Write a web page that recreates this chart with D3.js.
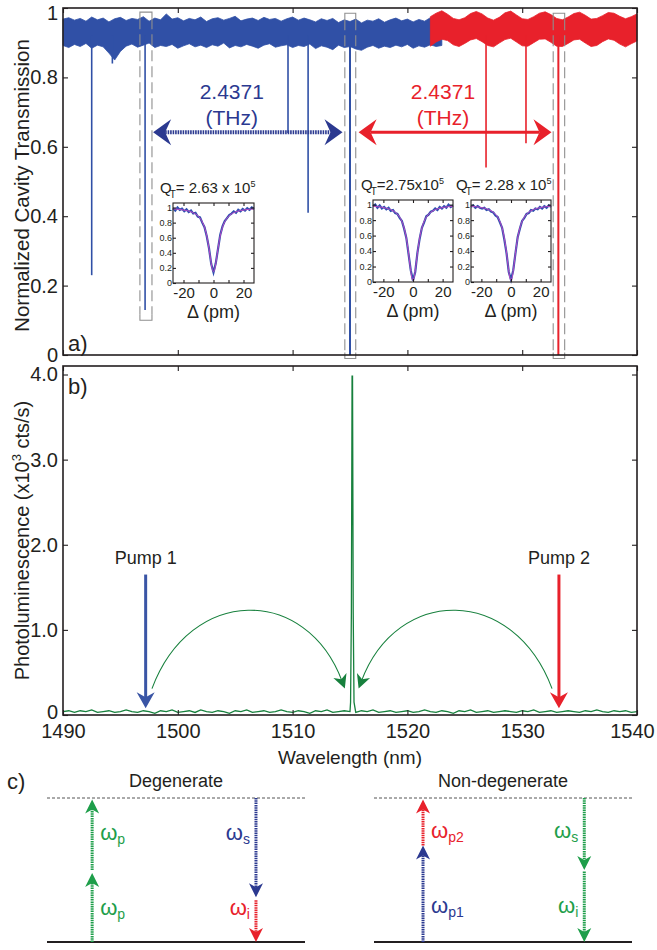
<!DOCTYPE html>
<html lang="en">
<head>
<meta charset="UTF-8">
<title>Cavity transmission and photoluminescence</title>
<script src="https://d3js.org/d3.v7.min.js"></script>
<style>
  body { margin: 0; background: #fff; }
  svg { font-family: "Liberation Sans", Arial, sans-serif; }
</style>
</head>
<body>
<div id="chart"></div>
<script>
// ---------- data ----------
const xTicks = [1490, 1500, 1510, 1520, 1530, 1540];
const transTicks = [0, 0.2, 0.4, 0.6, 0.8, 1];
const transTickLabels = ["0", "0.2", "0.4", "0.6", "0.8", "1"];
const plTicks = [0, 1, 2, 3, 4];
const plTickLabels = ["0", "1.0", "2.0", "3.0", "4.0"];

// transmission noise envelope, 0.5 nm steps
const blueStart = 1490;
const blueUpper = [.968,.972,.965,.970,.962,.974,.966,.971,.960,.969,
  .973,.964,.970,.967,.975,.962,.971,.966,.983,.968,
  .972,.963,.970,.966,.974,.961,.969,.972,.965,.970,
  .976,.963,.968,.971,.964,.973,.967,.970,.962,.969,
  .974,.965,.971,.966,.960,.969,.964,.970,.958,.966,
  .961,.968,.957,.965,.962,.969,.959,.966,.971,.963,
  .968,.960,.967,.962,.972,.966,.969];
const blueLower = [.892,.886,.895,.889,.898,.884,.893,.888,.870,.850,
  .875,.890,.896,.887,.893,.899,.886,.892,.889,.895,
  .884,.891,.897,.888,.893,.886,.894,.890,.899,.885,
  .892,.888,.895,.890,.884,.893,.897,.887,.891,.894,
  .886,.892,.889,.896,.883,.891,.887,.880,.893,.886,
  .889,.882,.878,.887,.892,.884,.890,.886,.893,.888,
  .895,.884,.891,.887,.894,.889,.892];
const redStart = 1522;
const redUpper = [.975,.985,.992,.982,.970,.966,.972,.984,.990,.983,
  .971,.965,.973,.986,.991,.980,.969,.967,.975,.985,
  .989,.981,.970,.966,.974,.984,.988,.979,.968,.970,
  .978,.987,.985,.976,.969,.975,.983];
const redLower = [.890,.902,.910,.906,.894,.889,.898,.908,.912,.903,
  .892,.888,.899,.909,.913,.902,.891,.890,.900,.910,
  .911,.901,.890,.889,.898,.908,.910,.899,.889,.892,
  .903,.911,.907,.896,.888,.897,.905];

// resonance dips
const dipLambda = [1492.5, 1494.3, 1497.15, 1509.6, 1511.35, 1515.0, 1526.85, 1530.33, 1533.15];
const dipMin    = [0.23, 0.84, 0.13, 0.64, 0.41, 0.0, 0.54, 0.61, 0.0];
const dipSeries = ["b", "b", "b", "b", "b", "b", "r", "r", "r"];

// dashed boxes marking the three resonances
const boxLeft   = [1496.7, 1514.55, 1532.7];
const boxRight  = [1497.75, 1515.5, 1533.7];
const boxTop    = [0.988, 0.985, 0.985];
const boxBottom = [0.10, -0.01, -0.01];

// frequency spacing arrows
const spanFrom = [1497.85, 1515.75];
const spanTo   = [1514.35, 1532.55];
const spanLevel = 0.642;
const spanText = ["2.4371", "2.4371"];
const spanTextLambda = [1504.7, 1523.1];

// insets: normalized transmission vs detuning (pm)
const insetQ = ["2.63", "2.75", "2.28"];
const insetData = [
  [.99,.96,1.0,.97,.985,.95,.975,.94,.96,.92,.93,.88,.87,.80,.74,.62,.46,.25,.14,
   .26,.45,.64,.75,.82,.86,.90,.92,.95,.93,.97,.95,.98,.96,.99,.97,1.0,.98],
  [.98,1.0,.96,.99,.95,.97,.94,.96,.92,.93,.89,.88,.83,.79,.69,.57,.36,.15,.02,
   .13,.38,.56,.70,.77,.85,.87,.91,.92,.95,.93,.97,.95,.98,.96,1.0,.97,.99],
  [.97,.99,.96,.98,.96,.95,.96,.93,.94,.91,.90,.86,.84,.77,.70,.55,.37,.13,.03,
   .15,.37,.58,.69,.79,.83,.88,.89,.93,.92,.95,.94,.97,.95,.98,.96,.99,.97]
];
const fitDelta = [-27,-24,-21,-18,-15,-12,-10,-8,-6,-5,-4,-3,-2,-1,0,1,2,3,4,5,6,8,10,12,15,18,21,24,27];
const insetFit = [
  [.982,.977,.970,.960,.944,.915,.883,.830,.738,.668,.575,.456,.320,.200,.15,
   .200,.320,.456,.575,.668,.738,.830,.883,.915,.944,.960,.970,.977,.982],
  [.979,.974,.966,.954,.935,.902,.865,.804,.698,.618,.510,.373,.216,.078,.02,
   .078,.216,.373,.510,.618,.698,.804,.865,.902,.935,.954,.966,.974,.979],
  [.979,.974,.966,.954,.935,.902,.865,.804,.698,.618,.510,.373,.216,.078,.02,
   .078,.216,.373,.510,.618,.698,.804,.865,.902,.935,.954,.966,.974,.979]
];

// photoluminescence, 0.5 nm steps, plus the resolved peak
const plStart = 1490;
const plCounts = [.04,.05,.03,.05,.04,.06,.03,.04,.05,.03,
  .04,.06,.04,.03,.05,.04,.02,.05,.04,.06,
  .03,.04,.05,.03,.06,.04,.03,.05,.04,.02,
  .05,.04,.06,.03,.04,.05,.03,.04,.06,.04,
  .03,.05,.04,.02,.05,.04,.06,.03,.04,.05,
  .04,.03,.05,.04,.06,.03,.04,.05,.03,.04,
  .05,.03,.04,.06,.04,.03,.05,.04,.02,.05,
  .04,.06,.03,.04,.05,.03,.04,.05,.04,.03,
  .05,.04,.06,.03,.04,.05,.03,.04,.05,.04,
  .03,.05,.04,.06,.04,.03,.05,.04,.05,.03,.04];
const peakLambda = [1515.05, 1515.12, 1515.18, 1515.22, 1515.28, 1515.35];
const peakCounts = [0.15, 1.2, 3.98, 3.98, 1.2, 0.15];

const pumpLambda = [1497.2, 1533.2];
const pumpText = ["Pump 1", "Pump 2"];
const pumpTop = 1.65, pumpTip = 0.08;
const arcFrom = [1497.75, 1532.6];
const arcTo = [1514.55, 1515.75];
const arcBase = 0.31, arcPeak = 1.22;

// energy diagrams: from/to level (0 = ground, 1 = virtual), column, colour key
const diagTitle = ["Degenerate", "Non-degenerate"];
const segDiagram = [0, 0, 0, 0, 1, 1, 1, 1];
const segColumn  = [0, 0, 1, 1, 0, 0, 1, 1];
const segFrom    = [0, 0.5, 1, 0.29, 0, 0.67, 1, 0.49];
const segTo      = [0.48, 0.99, 0.31, 0, 0.67, 0.99, 0.5, 0];
const segColor   = ["g", "g", "n", "r", "n", "r", "g", "g"];
const labDiagram = [0, 0, 0, 0, 1, 1, 1, 1];
const labColumn  = [0, 0, 1, 1, 0, 0, 1, 1];
const labLevel   = [0.71, 0.19, 0.71, 0.19, 0.72, 0.2, 0.72, 0.2];
const labSub     = ["p", "p", "s", "i", "p2", "p1", "s", "i"];
const labColor   = ["g", "g", "n", "r", "r", "n", "g", "g"];

// ---------- drawing ----------
const C = {ink: "#231f20", blue: "#3050a6", navy: "#2b3990", red: "#e8212b",
  green: "#17803d", green2: "#1e9e4a", grey: "#8f8f8f", fit: "#b948c4", pump: "#3a55a5"};
const colorKey = {g: C.green2, n: C.navy, r: C.red};

const svg = d3.select("#chart").append("svg").attr("width", 657).attr("height", 950);

const x = d3.scaleLinear().domain([1490, 1540]).range([63, 637]);
const yT = d3.scaleLinear().domain([0, 1]).range([355, 8]);
const yP = d3.scaleLinear().domain([0, 4.1]).range([715, 366]);

function arrowHead(g, px, py, angle, color, len, half, notch) {
  g.append("path")
    .attr("d", `M0,0L${-len},${-half}L${-len + notch},0L${-len},${half}Z`)
    .attr("transform", `translate(${px},${py}) rotate(${angle * 180 / Math.PI})`)
    .attr("fill", color);
}

function styleAxis(g, size) {
  g.select(".domain").remove();
  g.attr("font-family", null).attr("font-size", size);
  g.selectAll("line").attr("stroke", C.ink).attr("stroke-width", 1.1);
  g.selectAll("text").attr("fill", C.ink);
}

// ----- panel a -----
const pa = svg.append("g");
const band = d3.area().x(d => x(d.l)).y0(d => yT(d.lo)).y1(d => yT(d.hi));
const blueBand = blueUpper.map((v, i) => ({l: blueStart + i * 0.5, hi: v, lo: blueLower[i]}));
const redBand = redUpper.map((v, i) => ({l: redStart + i * 0.5, hi: v, lo: redLower[i]}));

function drawDips(key, color) {
  dipLambda.forEach((l, i) => {
    if (dipSeries[i] !== key) return;
    pa.append("line")
      .attr("x1", x(l)).attr("x2", x(l))
      .attr("y1", yT(0.92)).attr("y2", yT(dipMin[i]))
      .attr("stroke", color).attr("stroke-width", dipMin[i] < 0.05 ? 2 : 1.6);
  });
}
pa.append("path").datum(blueBand).attr("d", band)
  .attr("fill", C.blue).attr("stroke", C.blue).attr("stroke-width", 0.8);
drawDips("b", C.blue);
pa.append("path").datum(redBand).attr("d", band)
  .attr("fill", C.red).attr("stroke", C.red).attr("stroke-width", 0.8);
drawDips("r", C.red);

// dashed resonance boxes
boxLeft.forEach((l, i) => {
  const x0 = x(l), x1 = x(boxRight[i]), y0 = yT(boxTop[i]), y1 = yT(boxBottom[i]);
  pa.append("path").attr("d", `M${x0},${y0 + 6}V${y0}H${x1}V${y0 + 6}M${x0},${y1 - 6}V${y1}H${x1}V${y1 - 6}`)
    .attr("fill", "none").attr("stroke", C.grey).attr("stroke-width", 1.1);
  [x0, x1].forEach(xx => pa.append("line")
    .attr("x1", xx).attr("x2", xx).attr("y1", y0 + 6).attr("y2", y1 - 6)
    .attr("stroke", C.grey).attr("stroke-width", 1.1).attr("stroke-dasharray", "11,5"));
});

// spacing arrows
spanFrom.forEach((l, i) => {
  const color = i === 0 ? C.navy : C.red;
  const xa = x(l), xb = x(spanTo[i]), yy = yT(spanLevel);
  pa.append("line").attr("x1", xa + 12).attr("x2", xb - 12).attr("y1", yy).attr("y2", yy)
    .attr("stroke", color).attr("stroke-width", i === 0 ? 4 : 3)
    .attr("stroke-dasharray", i === 0 ? "1.6,0.9" : null);
  arrowHead(pa, xa, yy, Math.PI, color, 18, 13, 6);
  arrowHead(pa, xb, yy, 0, color, 18, 13, 6);
  const t = pa.append("text").attr("text-anchor", "middle").attr("fill", color).attr("font-size", 21);
  t.append("tspan").attr("x", x(spanTextLambda[i])).attr("y", yT(0.737)).text(spanText[i]);
  t.append("tspan").attr("x", x(spanTextLambda[i])).attr("y", yT(0.663)).text("(THz)");
});

// insets
const insetBox = [{l: 173, t: 203, w: 81, h: 80, qx: 160, qy: 193, tight: false},
                  {l: 373, t: 200, w: 80, h: 82, qx: 361, qy: 190, tight: true},
                  {l: 471, t: 200, w: 80, h: 82, qx: 456, qy: 190, tight: false}];
const dataDelta = d3.range(-27, 27.01, 1.5);
insetBox.forEach((b, k) => {
  const g = svg.append("g").attr("transform", `translate(${b.l},${b.t})`);
  const ix = d3.scaleLinear().domain([-27, 27]).range([0, b.w]);
  const iy = d3.scaleLinear().domain([0, 1.06]).range([b.h, 0]);
  g.append("rect").attr("width", b.w).attr("height", b.h).attr("fill", "#fff");
  g.append("path").datum(insetData[k])
    .attr("d", d3.line().x((d, i) => ix(dataDelta[i])).y(d => iy(d)))
    .attr("fill", "none").attr("stroke", "#3050b0").attr("stroke-width", 2.2);
  g.append("path").datum(insetFit[k])
    .attr("d", d3.line().curve(d3.curveMonotoneX).x((d, i) => ix(fitDelta[i])).y(d => iy(d)))
    .attr("fill", "none").attr("stroke", C.fit).attr("stroke-width", 1);
  const gy = g.append("g").call(d3.axisLeft(iy).tickValues([0, 0.2, 0.4, 0.6, 0.8, 1])
    .tickFormat(d => d === 0 ? "0" : d === 1 ? "1" : d.toFixed(1)).tickSizeInner(-3).tickSizeOuter(0).tickPadding(1));
  styleAxis(gy, 9);
  const gx = g.append("g").attr("transform", `translate(0,${b.h})`)
    .call(d3.axisBottom(ix).tickValues([-20, -10, 0, 10, 20])
      .tickFormat(d => Math.abs(d) === 10 ? "" : d).tickSizeInner(-3).tickSizeOuter(0).tickPadding(4));
  styleAxis(gx, 15);
  g.append("g").call(d3.axisTop(ix).tickValues([-20, -10, 0, 10, 20]).tickFormat("").tickSizeInner(-3).tickSizeOuter(0))
    .call(a => styleAxis(a, 9));
  g.append("g").attr("transform", `translate(${b.w},0)`)
    .call(d3.axisRight(iy).tickValues([0.2, 0.4, 0.6, 0.8, 1]).tickFormat("").tickSizeInner(-3).tickSizeOuter(0))
    .call(a => styleAxis(a, 9));
  g.append("rect").attr("width", b.w).attr("height", b.h)
    .attr("fill", "none").attr("stroke", C.ink).attr("stroke-width", 1.1);
  g.append("text").attr("x", b.w / 2).attr("y", b.h + 35).attr("text-anchor", "middle")
    .attr("font-size", 18).attr("fill", C.ink).text("\u0394 (pm)");
  const q = svg.append("text").attr("x", b.qx).attr("y", b.qy).attr("font-size", 15).attr("fill", C.ink);
  q.append("tspan").text("Q");
  q.append("tspan").attr("font-size", 10).attr("dx", -2).attr("dy", 5).text("T");
  q.append("tspan").attr("dy", -5).text(b.tight ? `=${insetQ[k]}x10` : `= ${insetQ[k]} x 10`);
  q.append("tspan").attr("font-size", 9).attr("dy", -6).text("5");
});

// panel a axes + frame
const aL = pa.append("g").attr("transform", "translate(63,0)")
  .call(d3.axisLeft(yT).tickValues(transTicks).tickFormat((d, i) => transTickLabels[i])
    .tickSizeInner(-5).tickSizeOuter(0).tickPadding(5));
styleAxis(aL, 20);
aL.selectAll("text").filter(d => d === 1).attr("dy", "0.55em");
pa.append("g").attr("transform", "translate(637,0)")
  .call(d3.axisRight(yT).tickValues(transTicks).tickFormat("").tickSizeInner(-5).tickSizeOuter(0))
  .call(a => styleAxis(a, 10));
pa.append("g").attr("transform", "translate(0,8)")
  .call(d3.axisTop(x).tickValues(xTicks).tickFormat("").tickSizeInner(-5).tickSizeOuter(0))
  .call(a => styleAxis(a, 10));
pa.append("g").attr("transform", "translate(0,355)")
  .call(d3.axisBottom(x).tickValues(xTicks).tickFormat("").tickSizeInner(-5).tickSizeOuter(0))
  .call(a => styleAxis(a, 10));
pa.append("rect").attr("x", 63).attr("y", 8).attr("width", 574).attr("height", 347)
  .attr("fill", "none").attr("stroke", C.ink).attr("stroke-width", 1.6);
pa.append("text").attr("transform", `translate(22,${(16 + 355) / 2}) rotate(-90)`)
  .attr("text-anchor", "middle").attr("dy", "0.35em").attr("font-size", 20.5).attr("fill", C.ink)
  .text("Normalized Cavity Transmission");
pa.append("text").attr("x", 68).attr("y", 351).attr("font-size", 22).attr("fill", C.ink).text("a)");

// ----- panel b -----
const pb = svg.append("g");
const plSeries = plCounts.map((v, i) => ({l: plStart + i * 0.5, v}))
  .concat(peakLambda.map((l, i) => ({l, v: peakCounts[i]})))
  .sort((a, b) => a.l - b.l);
pb.append("path").datum(plSeries)
  .attr("d", d3.line().x(d => x(d.l)).y(d => yP(d.v)))
  .attr("fill", "none").attr("stroke", C.green).attr("stroke-width", 1.3);

pumpLambda.forEach((l, i) => {
  const color = i === 0 ? C.pump : C.red;
  pb.append("line").attr("x1", x(l)).attr("x2", x(l))
    .attr("y1", yP(pumpTop)).attr("y2", yP(pumpTip) - 10)
    .attr("stroke", color).attr("stroke-width", 3);
  arrowHead(pb, x(l), yP(pumpTip), Math.PI / 2, color, 16, 9, 5);
  pb.append("text").attr("x", x(l)).attr("y", yP(pumpTop) - 11).attr("text-anchor", "middle")
    .attr("font-size", 18).attr("fill", C.ink).text(pumpText[i]);
});

arcFrom.forEach((l, i) => {
  const span = arcTo[i] - l;
  const yc = (arcPeak - 0.25 * arcBase) / 0.75;
  const p0 = [x(l), yP(arcBase)], p1 = [x(l + 0.2 * span), yP(yc)],
        p2 = [x(arcTo[i] - 0.2 * span), yP(yc)], p3 = [x(arcTo[i]), yP(arcBase)];
  const ang = Math.atan2(p3[1] - p2[1], p3[0] - p2[0]);
  const e = [p3[0] - 8 * Math.cos(ang), p3[1] - 8 * Math.sin(ang)];
  pb.append("path").attr("d", `M${p0}C${p1} ${p2} ${e}`)
    .attr("fill", "none").attr("stroke", C.green).attr("stroke-width", 1.1);
  arrowHead(pb, p3[0], p3[1], ang, C.green, 14, 7, 4);
});

const bL = pb.append("g").attr("transform", "translate(63,0)")
  .call(d3.axisLeft(yP).tickValues(plTicks).tickFormat((d, i) => plTickLabels[i])
    .tickSizeInner(-5).tickSizeOuter(0).tickPadding(5));
styleAxis(bL, 20);
bL.selectAll("text").filter(d => d === 0).attr("dy", "0.15em");
pb.append("g").attr("transform", "translate(637,0)")
  .call(d3.axisRight(yP).tickValues(plTicks).tickFormat("").tickSizeInner(-5).tickSizeOuter(0))
  .call(a => styleAxis(a, 10));
pb.append("g").attr("transform", "translate(0,366)")
  .call(d3.axisTop(x).tickValues(xTicks).tickFormat("").tickSizeInner(-5).tickSizeOuter(0))
  .call(a => styleAxis(a, 10));
const bB = pb.append("g").attr("transform", "translate(0,715)")
  .call(d3.axisBottom(x).tickValues(xTicks).tickFormat(d3.format("d"))
    .tickSizeInner(-5).tickSizeOuter(0).tickPadding(9));
styleAxis(bB, 20);
bB.selectAll("text").filter(d => d === 1540).attr("dx", "-5");
pb.append("rect").attr("x", 63).attr("y", 366).attr("width", 574).attr("height", 349)
  .attr("fill", "none").attr("stroke", C.ink).attr("stroke-width", 1.6);
const bt = pb.append("text").attr("transform", `translate(22,${(366 + 715) / 2}) rotate(-90)`)
  .attr("text-anchor", "middle").attr("dy", "0.35em").attr("font-size", 20).attr("fill", C.ink);
bt.append("tspan").text("Photoluminescence (x10");
bt.append("tspan").attr("font-size", 13).attr("dy", -8).text("3");
bt.append("tspan").attr("dy", 8).text(" cts/s)");
pb.append("text").attr("x", 350).attr("y", 764).attr("text-anchor", "middle")
  .attr("font-size", 19).attr("fill", C.ink).text("Wavelength (nm)");
pb.append("text").attr("x", 68).attr("y", 394).attr("font-size", 22).attr("fill", C.ink).text("b)");

// ----- panel c -----
const pc = svg.append("g");
pc.append("text").attr("x", 7).attr("y", 789).attr("font-size", 22).attr("fill", C.ink).text("c)");
const yE = d3.scaleLinear().domain([0, 1]).range([942, 798]);
const diagX = [d3.scaleLinear().range([47, 305]), d3.scaleLinear().range([374, 632])];
const colFrac = [[0.175, 0.81], [0.19, 0.815]];

diagX.forEach((sx, k) => {
  pc.append("text").attr("x", sx(0.5)).attr("y", 787).attr("text-anchor", "middle")
    .attr("font-size", 18).attr("fill", C.ink).text(diagTitle[k]);
  pc.append("line").attr("x1", sx(0)).attr("x2", sx(1)).attr("y1", yE(1)).attr("y2", yE(1))
    .attr("stroke", "#555").attr("stroke-width", 1).attr("stroke-dasharray", "3,2");
  pc.append("line").attr("x1", sx(0)).attr("x2", sx(1)).attr("y1", yE(0)).attr("y2", yE(0))
    .attr("stroke", C.ink).attr("stroke-width", 2.2);
});

segFrom.forEach((f, i) => {
  const sx = diagX[segDiagram[i]];
  const xx = sx(colFrac[segDiagram[i]][segColumn[i]]);
  const color = colorKey[segColor[i]];
  const up = segTo[i] > f;
  const tipY = yE(segTo[i]);
  pc.append("line").attr("x1", xx).attr("x2", xx)
    .attr("y1", yE(f)).attr("y2", tipY + (up ? 9 : -9))
    .attr("stroke", color).attr("stroke-width", 3).attr("stroke-dasharray", "1.5,0.8");
  arrowHead(pc, xx, tipY, up ? -Math.PI / 2 : Math.PI / 2, color, 14, 7, 4);
});

labLevel.forEach((lv, i) => {
  const sx = diagX[labDiagram[i]];
  const xx = sx(colFrac[labDiagram[i]][labColumn[i]]);
  const right = labColumn[i] === 0;
  const t = pc.append("text").attr("x", right ? xx + 8 : xx - 6).attr("y", yE(lv))
    .attr("text-anchor", right ? "start" : "end").attr("font-size", 22)
    .attr("fill", colorKey[labColor[i]]);
  t.append("tspan").text("\u03c9");
  t.append("tspan").attr("font-size", 14).attr("dy", 4).text(labSub[i]);
});
</script>
</body>
</html>
